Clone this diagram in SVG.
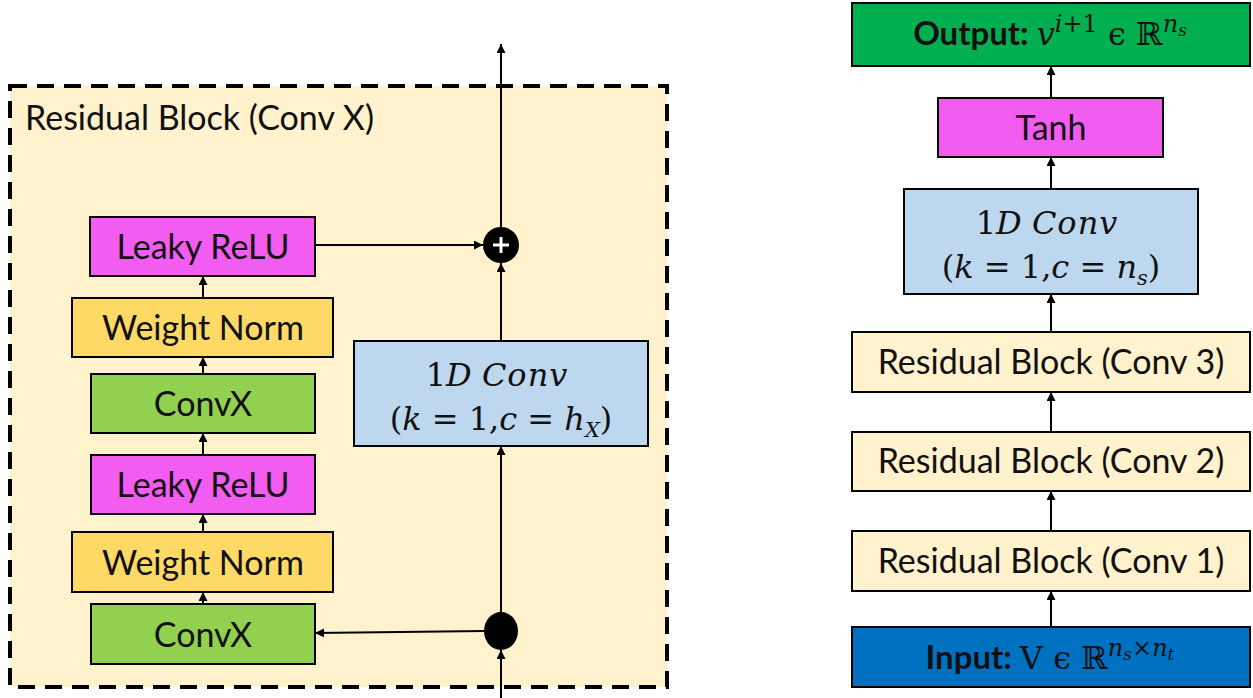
<svg xmlns="http://www.w3.org/2000/svg" width="1253" height="698" viewBox="0 0 1253 698">
<style>
.box{stroke:#000;stroke-width:2}
.mag{fill:#F25CF0}
.yel{fill:#FFD966}
.grn{fill:#92D050}
.lb{fill:#BDD7EE}
.cr{fill:#FFF2CC}
.t{font-family:Lato,"Open Sans",sans-serif;font-size:34px;fill:#111}
.m{font-family:"DejaVu Serif","Liberation Serif",serif;font-size:32px;fill:#111}
.c{stroke:#000;stroke-width:2;fill:none;marker-end:url(#ah)}
</style>
<defs>
<marker id="ah" viewBox="0 0 10 10" refX="10" refY="5" markerWidth="10" markerHeight="9" markerUnits="userSpaceOnUse" orient="auto">
<path d="M0,0 L10,5 L0,10 z" fill="#000"/>
</marker>
</defs>
<rect width="1253" height="698" fill="#fff"/>
<g id="residual-block">
<rect x="10" y="86" width="657" height="601" fill="#FFF2CC" stroke="#000" stroke-width="4" stroke-dasharray="17,10"/>
<text x="25" y="130" class="t">Residual Block (Conv X)</text>
</g>
<g id="lrelu1"><rect class="box mag" x="90" y="217" width="225" height="59"/><text x="203" y="259" class="t" text-anchor="middle">Leaky ReLU</text></g>
<g id="wn1"><rect class="box yel" x="72" y="298" width="261" height="59"/><text x="203" y="340" class="t" text-anchor="middle">Weight Norm</text></g>
<g id="convx1"><rect class="box grn" x="91" y="374" width="224" height="59"/><text x="203" y="416" class="t" text-anchor="middle">ConvX</text></g>
<g id="lrelu2"><rect class="box mag" x="91" y="455" width="224" height="59"/><text x="203" y="497" class="t" text-anchor="middle">Leaky ReLU</text></g>
<g id="wn2"><rect class="box yel" x="72" y="532" width="261" height="60"/><text x="203" y="575" class="t" text-anchor="middle">Weight Norm</text></g>
<g id="convx2"><rect class="box grn" x="91" y="604" width="224" height="60"/><text x="203" y="647" class="t" text-anchor="middle">ConvX</text></g>
<g id="conv1d-left"><rect class="box lb" x="354" y="341" width="294" height="105"/>
<text x="497" y="386" class="m" text-anchor="middle">1<tspan font-style="italic">D</tspan> <tspan font-style="italic" letter-spacing="1">Conv</tspan></text>
<text x="501" y="430" class="m" text-anchor="middle">(<tspan font-style="italic">k</tspan> = 1,<tspan font-style="italic">c</tspan> = <tspan font-style="italic">h</tspan><tspan font-style="italic" font-size="21" dy="7">X</tspan><tspan dy="-7">)</tspan></text>
</g>
<g id="plus"><circle cx="501" cy="245" r="18" fill="#000"/><path d="M501,237 V253 M493,245 H509" stroke="#fff" stroke-width="3"/></g>
<g id="split"><ellipse cx="501" cy="631" rx="17" ry="19" fill="#000"/></g>

<g id="output"><rect class="box" fill="#00B050" x="852" y="3" width="398" height="63"/>
<text x="1050" y="45" text-anchor="middle" class="m" font-size="34"><tspan font-family="Lato,sans-serif" font-weight="bold" font-size="33">Output: </tspan><tspan font-style="italic">v</tspan><tspan font-style="italic" font-size="24" dy="-13">i</tspan><tspan font-size="24">+1</tspan><tspan dy="13"> ϵ ℝ</tspan><tspan font-style="italic" font-size="24" dy="-13">n</tspan><tspan font-style="italic" font-size="17" dy="4">s</tspan></text></g>
<g id="tanh"><rect class="box mag" x="938" y="98" width="225" height="59"/><text x="1051" y="140" class="t" text-anchor="middle">Tanh</text></g>
<g id="conv1d-right"><rect class="box lb" x="904" y="189" width="294" height="105"/>
<text x="1047" y="234" class="m" text-anchor="middle">1<tspan font-style="italic">D</tspan> <tspan font-style="italic" letter-spacing="1">Conv</tspan></text>
<text x="1051" y="278" class="m" text-anchor="middle">(<tspan font-style="italic">k</tspan> = 1,<tspan font-style="italic">c</tspan> = <tspan font-style="italic">n</tspan><tspan font-style="italic" font-size="21" dy="7">s</tspan><tspan dy="-7">)</tspan></text>
</g>
<g id="rb3"><rect class="box cr" x="852" y="332" width="398" height="60"/><text x="1051" y="374" class="t" font-size="35" text-anchor="middle">Residual Block (Conv 3)</text></g>
<g id="rb2"><rect class="box cr" x="852" y="432" width="398" height="59"/><text x="1051" y="473" class="t" font-size="35" text-anchor="middle">Residual Block (Conv 2)</text></g>
<g id="rb1"><rect class="box cr" x="852" y="531" width="398" height="60"/><text x="1051" y="573" class="t" font-size="35" text-anchor="middle">Residual Block (Conv 1)</text></g>
<g id="input"><rect class="box" fill="#0070C0" x="852" y="627" width="398" height="60"/>
<text x="1050" y="669" text-anchor="middle" class="m" font-size="34"><tspan font-family="Lato,sans-serif" font-weight="bold" font-size="33">Input: </tspan>V ϵ ℝ<tspan font-style="italic" font-size="24" dy="-13">n</tspan><tspan font-style="italic" font-size="17" dy="4">s</tspan><tspan font-size="24" dy="-4">×</tspan><tspan font-style="italic" font-size="24">n</tspan><tspan font-style="italic" font-size="17" dy="4">t</tspan></text></g>

<g id="connectors">
<path class="c" d="M203,298 V276"/>
<path class="c" d="M203,374 V357"/>
<path class="c" d="M203,455 V433"/>
<path class="c" d="M203,532 V514"/>
<path class="c" d="M203,604 V592"/>
<path class="c" d="M315,245 H483"/>
<path class="c" d="M501,341 V263"/>
<path class="c" d="M501,227 V44"/>
<path class="c" d="M501,698 V650"/>
<path class="c" d="M501,612 V446"/>
<path class="c" d="M484,631 L315,633"/>
<path class="c" d="M1051,98 V66"/>
<path class="c" d="M1051,189 V157"/>
<path class="c" d="M1051,332 V294"/>
<path class="c" d="M1051,432 V392"/>
<path class="c" d="M1051,531 V491"/>
<path class="c" d="M1051,627 V591"/>
</g>
</svg>
